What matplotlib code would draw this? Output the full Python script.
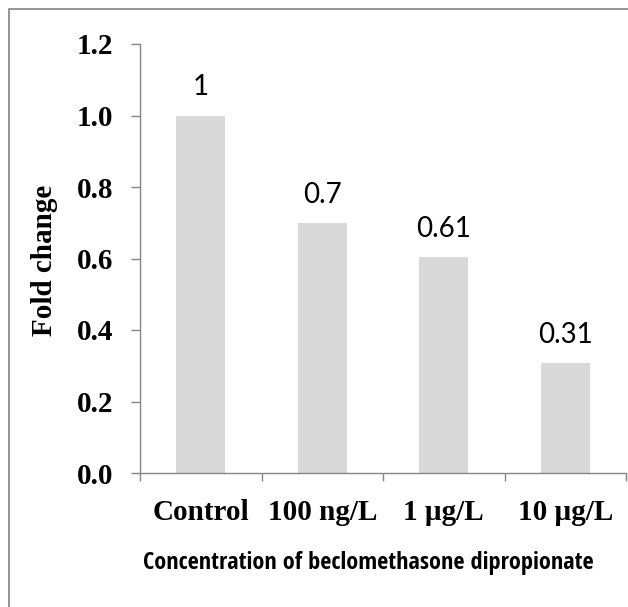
import matplotlib
matplotlib.use("Agg")
import matplotlib.pyplot as plt
from matplotlib import font_manager
from matplotlib.lines import Line2D

# data
categories = ["Control", "100 ng/L", "1 \u00b5g/L", "10 \u00b5g/L"]
fold_change = [1.0, 0.70, 0.605, 0.308]
bar_labels = ["1", "0.7", "0.61", "0.31"]
y_ticks = [0.0, 0.2, 0.4, 0.6, 0.8, 1.0, 1.2]

W, H = 628, 607
fig = plt.figure(figsize=(W / 100, H / 100), dpi=100)

# pick a narrow sans for the x title if one is installed
names = sorted({f.name for f in font_manager.fontManager.ttflist})
narrow = None
for cand in ["Liberation Sans Narrow", "DejaVu Sans Condensed", "Open Sans Condensed"]:
    if cand in names:
        narrow = cand
        break

grey = "#868686"
serif = "Liberation Serif"

# axes placed in pixel terms
x0, x1, ytop, ybot = 140, 626, 44, 473
ax = fig.add_axes([x0 / W, 1 - ybot / H, (x1 - x0) / W, (ybot - ytop) / H])

x = range(len(categories))
ax.bar(x, fold_change, width=0.4, color="#d9d9d9", zorder=2)

for i, (v, lab) in enumerate(zip(fold_change, bar_labels)):
    ax.annotate(lab, (i, v), xytext=(0, 14.5), textcoords="offset points",
                ha="center", va="baseline", fontsize=20, family="Lato")

ax.set_xlim(-0.5, 3.5)
ax.set_ylim(0, 1.2)
ax.set_yticks(y_ticks)
ax.set_yticklabels([f"{t:.1f}" for t in y_ticks], family=serif,
                   fontweight="bold", fontsize=21)

# boundary ticks as major, labels on minor
ax.set_xticks([-0.5, 0.5, 1.5, 2.5, 3.5])
ax.set_xticklabels([])
ax.set_xticks(list(x), minor=True)
ax.set_xticklabels(categories, minor=True, family=serif,
                   fontweight="bold", fontsize=21)

ax.tick_params(axis="x", which="major", direction="out", length=6,
               width=1, color=grey)
ax.tick_params(axis="x", which="minor", length=0, pad=19)
ax.tick_params(axis="y", direction="out", length=6.5, width=1,
               color=grey, pad=13)

for s in ["top", "right"]:
    ax.spines[s].set_visible(False)
for s in ["left", "bottom"]:
    ax.spines[s].set_color(grey)
    ax.spines[s].set_linewidth(1)

fig.text(45 / W, 1 - 260 / H, "Fold change", rotation=90, ha="center",
         va="center", family=serif, fontweight="bold", fontsize=21)

if narrow:
    fig.text(368 / W, 1 - 563 / H, "Concentration of beclomethasone dipropionate",
             ha="center", va="center", family=narrow, fontsize=17.5)
else:
    fig.text(368 / W, 1 - 563 / H, "Concentration of beclomethasone dipropionate",
             ha="center", va="center", family="Lato", fontsize=14.5)

# outer frame (left and top edges visible)
fig.add_artist(Line2D([9 / W, 9 / W, 1], [0, 1 - 9 / H, 1 - 9 / H],
                      transform=fig.transFigure, color="#8c8c8c", lw=1.3))

fig.savefig("out.png", dpi=100)
